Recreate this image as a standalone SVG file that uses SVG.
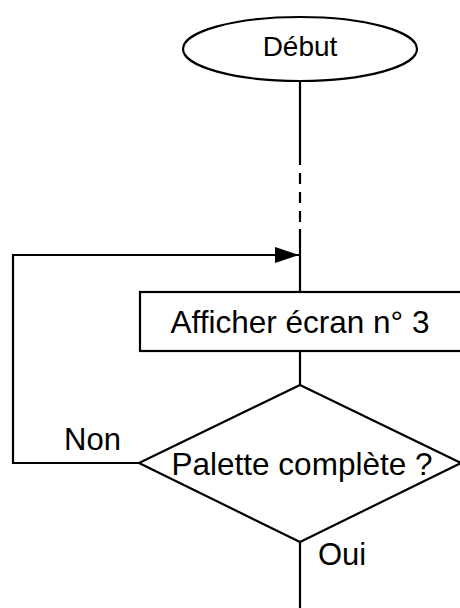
<svg xmlns="http://www.w3.org/2000/svg" width="460" height="608" viewBox="0 0 460 608">
  <style>
    .shape { fill: #ffffff; stroke: #000000; stroke-width: 2.2; }
    .wire { fill: none; stroke: #000000; stroke-width: 2.2; }
    .label { font-family: "Liberation Sans", Arial, sans-serif; fill: #000000; }
  </style>
  <defs>
    <marker id="arrow" markerUnits="userSpaceOnUse" markerWidth="25" markerHeight="16" refX="24" refY="8" orient="auto">
      <path d="M0,0 L24,8 L0,16 Z" fill="#000000"/>
    </marker>
  </defs>

  <rect width="460" height="608" fill="#ffffff"/>

  <!-- connectors -->
  <g id="connectors">
    <!-- start to process, with a dashed break -->
    <path class="wire" d="M300,82 V165"/>
    <path class="wire" d="M300,173 V184 M300,192 V203 M300,211 V222"/>
    <path class="wire" d="M300,229 V292"/>
    <!-- process to decision -->
    <path class="wire" d="M300,351 V385"/>
    <!-- decision "Oui" exit -->
    <path class="wire" d="M300,542 V608"/>
    <!-- decision "Non" loop back -->
    <path class="wire" d="M139,463 H13 V255 H299" marker-end="url(#arrow)"/>
  </g>

  <g id="start">
    <ellipse class="shape" cx="300" cy="49" rx="117" ry="32"/>
    <text class="label" x="300" y="56" font-size="28" text-anchor="middle">Début</text>
  </g>

  <g id="display">
    <rect class="shape" x="140" y="292" width="324" height="59"/>
    <text class="label" x="300" y="333" font-size="31.5" text-anchor="middle">Afficher écran n° 3</text>
  </g>

  <g id="decision">
    <path class="shape" d="M300,385 L461,463 L300,542 L139,463 Z"/>
    <text class="label" x="302" y="475" font-size="31.5" text-anchor="middle">Palette complète ?</text>
  </g>

  <text class="label" x="64" y="450" font-size="31">Non</text>
  <text class="label" x="318" y="565" font-size="31">Oui</text>
</svg>
